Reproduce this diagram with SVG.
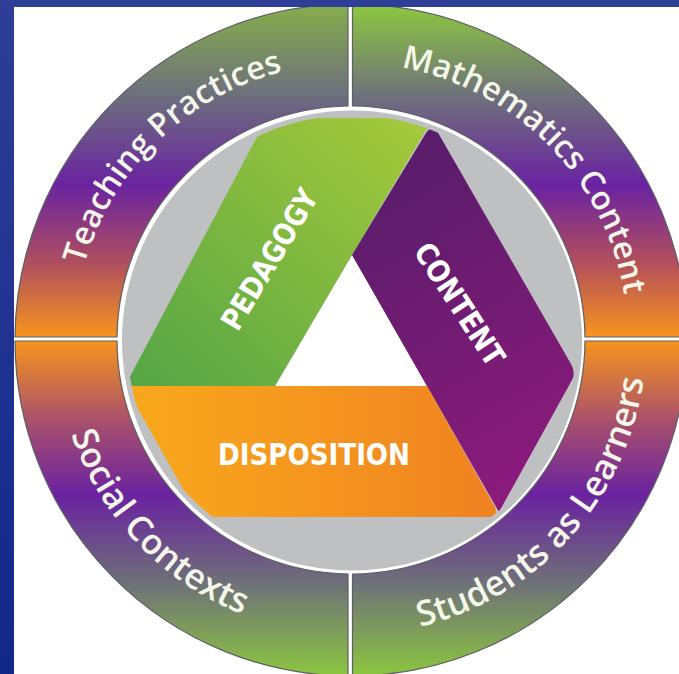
<svg xmlns="http://www.w3.org/2000/svg" width="679" height="674" viewBox="0 0 679 674">
  <style>
    .ring-outline { stroke: #5e5e66; stroke-width: 1.2; }
    .ring-text { font-family: "Open Sans", "Noto Sans", "DejaVu Sans", sans-serif; font-weight: 600; fill: #f3f6e8; }
    .tri-text { font-family: "DejaVu Sans Condensed", "DejaVu Sans", "Liberation Sans", sans-serif; font-stretch: condensed; font-weight: bold; font-size: 30px; fill: #ffffff; text-anchor: middle; }
  </style>
  <defs>
    <linearGradient id="bg" x1="0" y1="0" x2="0" y2="1">
      <stop offset="0" stop-color="#2f3e97"/>
      <stop offset="1" stop-color="#10288a"/>
    </linearGradient>
    <linearGradient id="gTopL" gradientUnits="userSpaceOnUse" x1="0" y1="337" x2="0" y2="6">
      <stop offset="0" stop-color="#f7941d"/>
      <stop offset="0.22" stop-color="#b0505e"/>
      <stop offset="0.46" stop-color="#6a23a0"/>
      <stop offset="0.72" stop-color="#6c6d7e"/>
      <stop offset="1" stop-color="#86ad4c"/>
    </linearGradient>
    <linearGradient id="gTopR" gradientUnits="userSpaceOnUse" x1="0" y1="337" x2="0" y2="6">
      <stop offset="0" stop-color="#f7941d"/>
      <stop offset="0.22" stop-color="#b4505a"/>
      <stop offset="0.46" stop-color="#6a22a2"/>
      <stop offset="0.72" stop-color="#6e6f7c"/>
      <stop offset="1" stop-color="#8cc63f"/>
    </linearGradient>
    <linearGradient id="gBot" gradientUnits="userSpaceOnUse" x1="0" y1="341" x2="0" y2="676">
      <stop offset="0" stop-color="#f7941d"/>
      <stop offset="0.24" stop-color="#a8506c"/>
      <stop offset="0.46" stop-color="#6a22a0"/>
      <stop offset="0.72" stop-color="#6e7078"/>
      <stop offset="1" stop-color="#8cc63f"/>
    </linearGradient>
    <linearGradient id="gGreen" gradientUnits="userSpaceOnUse" x1="400" y1="120" x2="160" y2="386">
      <stop offset="0" stop-color="#a4c83a"/>
      <stop offset="1" stop-color="#58a746"/>
    </linearGradient>
    <linearGradient id="gPurple" gradientUnits="userSpaceOnUse" x1="400" y1="180" x2="560" y2="470">
      <stop offset="0" stop-color="#5b1d6b"/>
      <stop offset="1" stop-color="#8c1a7c"/>
    </linearGradient>
    <linearGradient id="gOrange" gradientUnits="userSpaceOnUse" x1="125" y1="0" x2="500" y2="0">
      <stop offset="0" stop-color="#f8a91b"/>
      <stop offset="0.5" stop-color="#f5961f"/>
      <stop offset="1" stop-color="#ef8121"/>
    </linearGradient>
    <clipPath id="whiteArea">
      <rect x="14" y="7" width="665" height="667"/>
    </clipPath>
    <clipPath id="disk">
      <circle cx="352" cy="340.5" r="225"/>
    </clipPath>
    <path id="arcTeaching" d="M 122.2 496.1 A 277 277 0 0 1 512.6 115.0"/>
    <path id="arcMath" d="M 194.1 111.7 A 277 277 0 0 1 576.5 500.9"/>
    <path id="arcSocial" d="M 113.8 164.5 A 295 295 0 0 0 513.8 586.0"/>
    <path id="arcStudents" d="M 194.7 590.2 A 295 295 0 0 0 583.5 158.4"/>
  </defs>

  <rect x="0" y="0" width="679" height="674" fill="url(#bg)"/>
  <rect x="14" y="7" width="665" height="667" fill="#ffffff"/>

  <g clip-path="url(#whiteArea)">
    <g id="teaching-practices">
      <path class="ring-outline" fill="url(#gTopL)" d="M 348 4 A 336 336 0 0 0 15 337 L 117 337 A 234 234 0 0 1 348 106 Z"/>
      <text class="ring-text" font-size="32.5"><textPath href="#arcTeaching" startOffset="50%" text-anchor="middle">Teaching Practices</textPath></text>
    </g>
    <g id="mathematics-content">
      <path class="ring-outline" fill="url(#gTopR)" d="M 352.5 4 A 336 336 0 0 1 687 337 L 585 337 A 234 234 0 0 0 352.5 106 Z"/>
      <text class="ring-text" font-size="32.5"><textPath href="#arcMath" startOffset="50%" text-anchor="middle">Mathematics Content</textPath></text>
    </g>
    <g id="students-as-learners">
      <path class="ring-outline" fill="url(#gBot)" d="M 687 341 A 336 336 0 0 1 352.5 676 L 352.5 574 A 234 234 0 0 0 585 341 Z"/>
      <text class="ring-text" font-size="35"><textPath href="#arcStudents" startOffset="50%" text-anchor="middle">Students as Learners</textPath></text>
    </g>
    <g id="social-contexts">
      <path class="ring-outline" fill="url(#gBot)" d="M 348 676 A 336 336 0 0 1 15 341 L 117 341 A 234 234 0 0 0 348 574 Z"/>
      <text class="ring-text" font-size="35"><textPath href="#arcSocial" startOffset="50%" text-anchor="middle">Social Contexts</textPath></text>
    </g>
  </g>

  <circle id="core-disk" cx="352" cy="340.5" r="230" fill="#bfc0c2"/>

  <g clip-path="url(#disk)">
    <polygon id="center-hole" points="352,255 275,386 427,386" fill="#ffffff"/>
    <g id="pedagogy">
      <path fill="url(#gGreen)" d="M 267 118 L 433 118 L 352 255 L 275 386 L 125 386 Z"/>
      <text class="tri-text" transform="translate(269,259) rotate(-59)" x="0" y="11" textLength="158" lengthAdjust="spacingAndGlyphs">PEDAGOGY</text>
    </g>
    <g id="content">
      <path fill="url(#gPurple)" d="M 352 255 L 426 133 Q 430 126 437 131 L 571 364 Q 576 372 572 380 L 499 512 Z"/>
      <text class="tri-text" transform="translate(460,304) rotate(57)" x="0" y="11" textLength="140" lengthAdjust="spacingAndGlyphs">CONTENT</text>
    </g>
    <g id="disposition">
      <path fill="url(#gOrange)" d="M 125 386 L 427 386 L 495 507 Q 499 517 489 517 L 199 517 Z"/>
      <text class="tri-text" x="314" y="465" textLength="192" lengthAdjust="spacingAndGlyphs">DISPOSITION</text>
    </g>
  </g>
</svg>
